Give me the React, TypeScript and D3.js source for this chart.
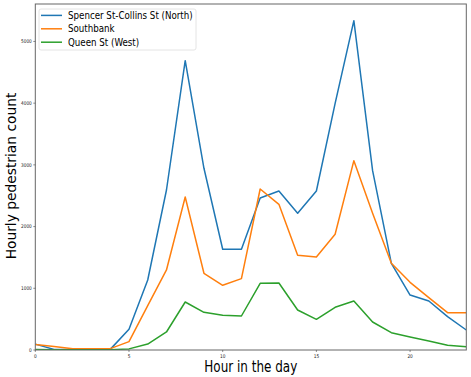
import React from "react";
import * as d3 from "d3";

const hours = d3.range(0, 24);
const seriesNames = ["Spencer St-Collins St (North)", "Southbank", "Queen St (West)"];
const spencer = [95, 10, 8, 10, 10, 335, 1134, 2593, 4689, 2945, 1632, 1632, 2463, 2577, 2215, 2577, 3998, 5337, 2906, 1405, 891, 794, 540, 324];
const southbank = [88, 55, 20, 20, 22, 135, 720, 1297, 2480, 1243, 1048, 1156, 2609, 2361, 1535, 1507, 1875, 3068, 2215, 1405, 1097, 848, 605, 605];
const queen = [8, 6, 5, 5, 5, 18, 97, 292, 778, 611, 562, 551, 1081, 1086, 648, 497, 692, 794, 454, 281, 211, 146, 76, 54];
const colors = ["#1f77b4", "#ff7f0e", "#2ca02c"];
const xTicks = [0, 5, 10, 15, 20];
const yTicks = [0, 1000, 2000, 3000, 4000, 5000];

const W = 471, H = 377;
const L = 35.3, R = 466.3, T = 4, B = 350;
const SX = 0.82;

export default function App() {
  const x = d3.scaleLinear().domain([0, 23]).range([L, R]);
  const y = d3.scaleLinear().domain([0, 5607]).range([B, T]);
  const data = [spencer, southbank, queen];
  const line = d3.line<number>().x((_, i) => x(hours[i])).y((d) => y(d));
  const font = "DejaVu Sans, sans-serif";
  return (
    <svg width={W} height={H} style={{ position: "absolute", left: 0, top: 0 }}>
      <rect width={W} height={H} fill="#fff" />
      <defs>
        <clipPath id="clip">
          <rect x={L} y={T} width={R - L} height={B - T} />
        </clipPath>
      </defs>
      <g clipPath="url(#clip)">
        {data.map((s, i) => (
          <path key={i} d={line(s) || ""} fill="none" stroke={colors[i]} strokeWidth={1.5} strokeLinejoin="round" />
        ))}
      </g>
      <rect x={L} y={T} width={R - L} height={B - T} fill="none" stroke="#666" strokeWidth={1} />
      {xTicks.map((t) => (
        <g key={t}>
          <line x1={x(t)} x2={x(t)} y1={B} y2={B + 2} stroke="#444" strokeWidth={0.6} />
          <text transform={`translate(${x(t)},${B + 7.5}) scale(${SX},1)`} fontSize={5.2} fontFamily={font} textAnchor="middle" fill="#222">{t}</text>
        </g>
      ))}
      {yTicks.map((t) => (
        <g key={t}>
          <line x1={L - 2} x2={L} y1={y(t)} y2={y(t)} stroke="#444" strokeWidth={0.6} />
          <text transform={`translate(${L - 3.5},${y(t) + 1.9}) scale(${SX},1)`} fontSize={5.2} fontFamily={font} textAnchor="end" fill="#222">{t}</text>
        </g>
      ))}
      <text transform={`translate(${(L + R) / 2},372) scale(0.8,1)`} fontSize={15} fontFamily={font} textAnchor="middle" fill="#000">Hour in the day</text>
      <text transform={`translate(16,${(T + B) / 2 - 1}) rotate(-90)`} fontSize={13.8} fontFamily={font} textAnchor="middle" fill="#000">Hourly pedestrian count</text>
      <rect x={39} y={9} width={157} height={41} rx={2} fill="#fff" fillOpacity={0.8} stroke="#ddd" strokeWidth={0.8} />
      {seriesNames.map((n, i) => (
        <g key={n}>
          <line x1={41} x2={62} y1={15.4 + i * 13.4} y2={15.4 + i * 13.4} stroke={colors[i]} strokeWidth={1.5} />
          <text transform={`translate(68,${15.4 + i * 13.4 + 3.3}) scale(0.83,1)`} fontSize={10.5} fontFamily={font} fill="#000">{n}</text>
        </g>
      ))}
    </svg>
  );
}
